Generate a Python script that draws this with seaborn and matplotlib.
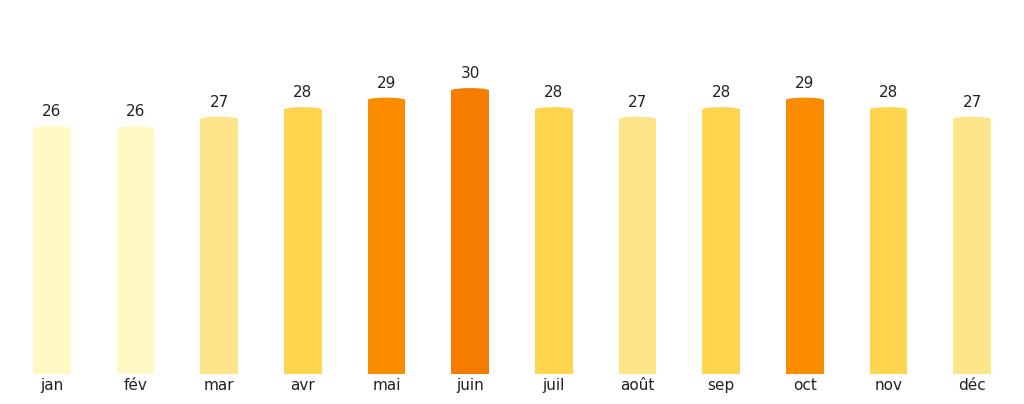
import matplotlib
matplotlib.use("Agg")
import matplotlib.pyplot as plt
import seaborn as sns
import pandas as pd
from matplotlib.patches import Ellipse

months = ["jan", "fév", "mar", "avr", "mai", "juin", "juil", "août", "sep", "oct", "nov", "déc"]
temps = [26, 26, 27, 28, 29, 30, 28, 27, 28, 29, 28, 27]
color_map = {26: "#FFF9C4", 27: "#FFE58A", 28: "#FFD54F", 29: "#FB8C00", 30: "#F57C00"}

sns.set_theme(style="white")
plt.rcParams['font.family'] = ['DejaVu Sans']

df = pd.DataFrame({"month": months, "temp": temps})
colors = [color_map[t] for t in temps]

fig = plt.figure(figsize=(10.24, 4.04), dpi=100)
ax = fig.add_axes([10/1024, 30/404, 1004/1024, (374-59.5)/404])

cap = 0.25
df["body"] = df["temp"] - cap
sns.barplot(data=df, x="month", y="body", hue="month", palette=colors, legend=False,
            width=0.45, ax=ax, linewidth=0, saturation=1)
for i, p in enumerate(ax.patches):
    cx = p.get_x() + p.get_width() / 2
    e = Ellipse((cx, p.get_height()), p.get_width(), 2 * cap, facecolor=colors[i],
                edgecolor="none", linewidth=0)
    ax.add_patch(e)
    ax.annotate(str(temps[i]), (cx, temps[i]), xytext=(0, 5), textcoords="offset points",
                ha="center", va="bottom", fontsize=11, color="#222222")

ax.set_xlim(-0.5, 11.5)
ax.set_ylim(0, 33)
ax.set_xlabel("")
ax.set_ylabel("")
ax.set_yticks([])
ax.tick_params(axis="x", length=0, pad=3, labelsize=11, labelcolor="#222222")
for s in ax.spines.values():
    s.set_visible(False)

fig.savefig("out.png", dpi=100)
